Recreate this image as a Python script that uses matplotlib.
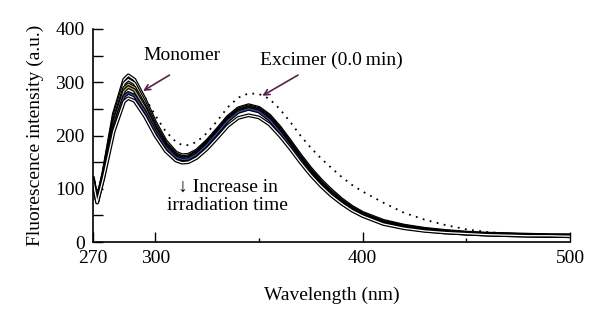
import matplotlib
matplotlib.use("Agg")
import matplotlib.pyplot as plt

plt.rcParams['font.family'] = ['Liberation Serif', 'DejaVu Serif']

# wavelength grid (nm)
wl = [270, 272, 275, 280, 285, 287, 290, 295, 300, 305, 310, 313, 316, 320, 325,
      330, 335, 340, 345, 350, 355, 360, 365, 370, 375, 380, 385, 390, 395, 400,
      410, 420, 430, 440, 450, 460, 470, 480, 490, 500]

# excimer at 0.0 min (dotted)
exc0 = [120, 80, 132, 245, 300, 305, 300, 272, 238, 208, 188, 182, 182, 188, 205,
        228, 253, 271, 279, 278, 269, 250, 226, 200, 177, 157, 139, 122, 107, 95,
        74, 55, 42, 32, 24, 19, 16, 15, 14, 13]

# spectra with increasing irradiation time (solid)
s1 = [120, 78, 130, 240, 305, 313, 305, 268, 225, 190, 168, 163, 164, 172, 190,
      212, 235, 251, 257, 252, 238, 216, 190, 163, 138, 116, 97, 80, 66, 55,
      40, 31, 25, 21, 18, 16, 15, 14, 13, 13]
s2 = [118, 77, 128, 235, 298, 305, 298, 262, 220, 186, 165, 160, 161, 170, 188,
      210, 233, 249, 255, 250, 236, 213, 187, 160, 135, 113, 94, 78, 64, 53,
      38, 30, 24, 20, 17, 15, 14, 13, 12, 12]
s3 = [117, 76, 126, 228, 289, 296, 290, 256, 216, 183, 163, 158, 159, 168, 186,
      208, 231, 247, 253, 248, 234, 211, 185, 158, 133, 111, 92, 76, 63, 52,
      37, 29, 23, 19, 17, 15, 14, 13, 12, 12]
s4 = [116, 76, 125, 224, 284, 291, 285, 252, 213, 181, 161, 157, 158, 167, 185,
      207, 230, 246, 252, 247, 232, 209, 183, 156, 131, 109, 90, 75, 62, 51,
      36, 28, 23, 19, 16, 15, 14, 13, 12, 12]
s5 = [115, 75, 122, 216, 274, 280, 275, 245, 208, 178, 159, 155, 156, 165, 183,
      205, 228, 244, 250, 245, 230, 207, 181, 154, 129, 107, 88, 73, 60, 50,
      35, 27, 22, 18, 16, 14, 13, 12, 12, 11]
s6 = [114, 74, 120, 208, 264, 270, 265, 236, 200, 171, 153, 149, 150, 158, 175,
      196, 218, 233, 238, 234, 221, 200, 176, 150, 126, 105, 87, 72, 59, 49,
      34, 26, 21, 18, 16, 14, 13, 12, 12, 11]

solid = [s1, s2, s3, s4, s5, s6]
inner = ['white', 'white', '#c8c070', '#b8b060', '#3a48b0', 'white']

fig = plt.figure(figsize=(6, 3.25), dpi=100)
ax = fig.add_axes([0.155, 0.255, 0.795, 0.656])

ax.plot(wl, exc0, color='black', linestyle=(0, (1, 3)), linewidth=1.3)
for s, c in zip(solid, inner):
    ax.plot(wl, s, color='black', linewidth=2.7, solid_joinstyle='round')
    ax.plot(wl, s, color=c, linewidth=0.9, solid_joinstyle='round')

ax.set_xlim(270, 500)
ax.set_ylim(0, 400)
ax.set_xticks([270, 300, 400, 500])
ax.set_xticks([350, 450], minor=True)
ax.set_yticks([0, 100, 200, 300, 400])
ax.set_yticks([50, 150, 250, 350], minor=True)

ax.spines['top'].set_visible(False)
ax.spines['right'].set_visible(False)
for sp in ['left', 'bottom']:
    ax.spines[sp].set_linewidth(1.2)

ax.tick_params(axis='both', which='both', direction='in', labelsize=14, width=1.0)
ax.tick_params(axis='x', which='major', length=7, pad=6)
ax.tick_params(axis='x', which='minor', length=3)
ax.tick_params(axis='y', which='both', length=7, pad=6)

ax.set_xlabel('Wavelength (nm)', fontsize=14, labelpad=14)
ax.set_ylabel('Fluorescence intensity (a.u.)', fontsize=14, labelpad=8)

arrow_col = '#5a2248'
ax.annotate('', xy=(293, 281), xytext=(308, 316),
            arrowprops=dict(arrowstyle='->', color=arrow_col, lw=1.2))
ax.annotate('', xy=(350.5, 272), xytext=(370, 316),
            arrowprops=dict(arrowstyle='->', color=arrow_col, lw=1.2))

ax.text(312.7, 351, 'Monomer', fontsize=14, ha='center', va='center')
ax.text(385, 341, 'Excimer (0.0\u2009min)', fontsize=14, ha='center', va='center')
ax.text(335, 86, '\u2193 Increase in\nirradiation time', fontsize=14,
        ha='center', va='center', linespacing=1.15)

fig.savefig('out.png', dpi=100)
